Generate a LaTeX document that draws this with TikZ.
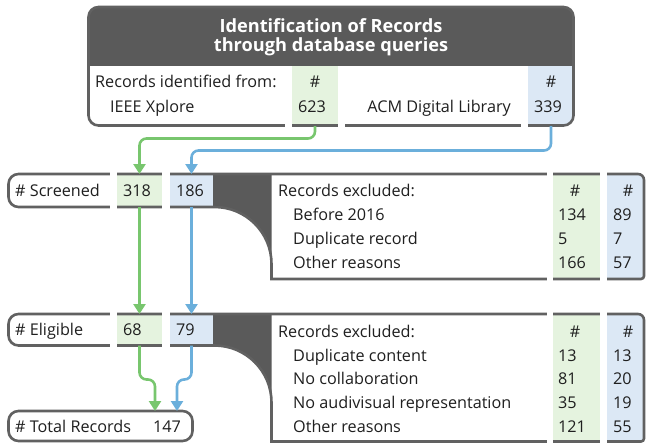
\documentclass[tikz,border=0pt]{standalone}
\usepackage{fontspec}
\setmainfont{Open Sans}
\usetikzlibrary{arrows.meta}
\definecolor{dk}{HTML}{5A5A5A}
\definecolor{bd}{HTML}{616161}
\definecolor{gl}{HTML}{78C66E}
\definecolor{gf}{HTML}{E5F3DF}
\definecolor{bl}{HTML}{6BAFDB}
\definecolor{bf}{HTML}{DCE8F5}
\definecolor{tx}{HTML}{1F1F1F}
\tikzset{
  txt/.style={inner sep=0pt, text height=11.5pt, text depth=0pt, font=\fontsize{16.2}{19}\selectfont, text=tx},
  lt/.style={txt, anchor=west},
  rt/.style={txt, anchor=east},
  ct/.style={txt, anchor=center},
  ttl/.style={inner sep=0pt, text height=13pt, text depth=0pt, anchor=center, text=white, font=\fontsize{18.2}{21}\selectfont\bfseries},
  gcell/.style={draw=none, fill=gf, inner sep=0pt, outer sep=0pt},
  bcell/.style={draw=none, fill=bf, inner sep=0pt, outer sep=0pt},
  border/.style={draw=bd, line width=2.6pt},
  gap/.style={fill=white, draw=none},
  garrow/.style={draw=gl, line width=2.6pt, rounded corners=7pt, -{Triangle[length=10pt,width=12pt]}},
  barrow/.style={draw=bl, line width=2.6pt, rounded corners=7pt, -{Triangle[length=10pt,width=12pt]}},
}
\begin{document}
\begin{tikzpicture}[x=1pt, y=-1pt]
\useasboundingbox (0,0) rectangle (647,444);

% ---------- top box ----------
\path[fill=white] [rounded corners=10pt] (88.5,7) rectangle (573.5,125.5);
\begin{scope}
  \clip [rounded corners=10pt] (88.5,7) rectangle (573.5,125.5);
  \fill[dk] (80,0) rectangle (580,66);
  \node[gcell, minimum width=46pt, minimum height=60pt] (cgA) at (315,96) {};
  \node[bcell, minimum width=46pt, minimum height=60pt] (cbA) at (551,96) {};
\end{scope}
\draw[border] [rounded corners=10pt] (88.5,7) rectangle (573.5,125.5);
\fill[gap] (285,66) rectangle (292,128);
\fill[gap] (338,66) rectangle (345,128);
\fill[gap] (521,66) rectangle (528,128);

\node[ttl] (title1) at (331,26.5) {Identification of Records};
\node[ttl] (title2) at (331,45.3) {through database queries};
\node[lt] (idfrom) at (95,82) {Records identified from:};
\node[lt] (ieee) at (110,107) {IEEE Xplore};
\node[ct] (hA1) at (315,82) {\#};
\node[lt] (v623) at (298,107) {623};
\node[rt] (acm) at (511,107) {ACM Digital Library};
\node[ct] (hA2) at (551,82) {\#};
\node[lt] (v339) at (534,107) {339};

% ---------- screened row ----------
\path[fill=white] (8.5,184) .. controls (8.5,178.48) and (12.98,174) .. (18.5,174) -- (638,174) .. controls (641.31,174) and (644,176.69) .. (644,180) -- (644,276) .. controls (644,277.66) and (642.66,279) .. (641,279) -- (271.5,279) -- (271.5,264) .. controls (271.5,232.52) and (245.98,207) .. (214.5,207) -- (18.5,207) .. controls (12.98,207) and (8.5,202.52) .. (8.5,197) -- cycle;
\begin{scope}
  \clip (8.5,184) .. controls (8.5,178.48) and (12.98,174) .. (18.5,174) -- (638,174) .. controls (641.31,174) and (644,176.69) .. (644,180) -- (644,276) .. controls (644,277.66) and (642.66,279) .. (641,279) -- (271.5,279) -- (271.5,264) .. controls (271.5,232.52) and (245.98,207) .. (214.5,207) -- (18.5,207) .. controls (12.98,207) and (8.5,202.52) .. (8.5,197) -- cycle;
  \fill[dk] (213,174) -- (271.5,174) -- (271.5,264) .. controls (271.5,232.52) and (245.98,207) .. (214.5,207) -- (213,207) -- cycle;
  \node[gcell, minimum width=45pt, minimum height=33pt] (cgS) at (139.5,190.5) {};
  \node[bcell, minimum width=43pt, minimum height=33pt] (cbS) at (191.5,190.5) {};
  \node[gcell, minimum width=47pt, minimum height=105pt] (cgX1) at (576.5,226.5) {};
  \node[bcell, minimum width=37pt, minimum height=105pt] (cbX1) at (625.5,226.5) {};
\end{scope}
\draw[border] (8.5,184) .. controls (8.5,178.48) and (12.98,174) .. (18.5,174) -- (638,174) .. controls (641.31,174) and (644,176.69) .. (644,180) -- (644,276) .. controls (644,277.66) and (642.66,279) .. (641,279) -- (271.5,279) -- (271.5,264) .. controls (271.5,232.52) and (245.98,207) .. (214.5,207) -- (18.5,207) .. controls (12.98,207) and (8.5,202.52) .. (8.5,197) -- cycle;
\fill[gap] (110,171) rectangle (117,210);
\fill[gap] (162,171) rectangle (170,210);
\fill[gap] (547,171) rectangle (553,282);
\fill[gap] (600,171) rectangle (607,282);

\node[lt] (scr) at (15,190.5) {\# Screened};
\node[lt] (v318) at (123,190.5) {318};
\node[lt] (v186) at (176,190.5) {186};
\node[lt] (ex1) at (278,191) {Records excluded:};
\node[lt] (ex1a) at (293,215) {Before 2016};
\node[lt] (ex1b) at (293,239) {Duplicate record};
\node[lt] (ex1c) at (293,263) {Other reasons};
\node[ct] (hX1g) at (575,191) {\#};
\node[lt] (v134) at (558,215) {134};
\node[lt] (v5) at (558,239) {5};
\node[lt] (v166) at (558,263) {166};
\node[ct] (hX1b) at (628,191) {\#};
\node[lt] (v89) at (613,215) {89};
\node[lt] (v7) at (613,239) {7};
\node[lt] (v57) at (613,263) {57};

% ---------- eligible row ----------
\path[fill=white] (8.5,324) .. controls (8.5,318.48) and (12.98,314) .. (18.5,314) -- (638,314) .. controls (641.31,314) and (644,316.69) .. (644,320) -- (644,438.5) .. controls (644,440.16) and (642.66,441.5) .. (641,441.5) -- (271.5,441.5) -- (271.5,402.5) .. controls (271.5,371.02) and (245.98,345.5) .. (214.5,345.5) -- (18.5,345.5) .. controls (12.98,345.5) and (8.5,341.02) .. (8.5,335.5) -- cycle;
\begin{scope}
  \clip (8.5,324) .. controls (8.5,318.48) and (12.98,314) .. (18.5,314) -- (638,314) .. controls (641.31,314) and (644,316.69) .. (644,320) -- (644,438.5) .. controls (644,440.16) and (642.66,441.5) .. (641,441.5) -- (271.5,441.5) -- (271.5,402.5) .. controls (271.5,371.02) and (245.98,345.5) .. (214.5,345.5) -- (18.5,345.5) .. controls (12.98,345.5) and (8.5,341.02) .. (8.5,335.5) -- cycle;
  \fill[dk] (213,314) -- (271.5,314) -- (271.5,402.5) .. controls (271.5,371.02) and (245.98,345.5) .. (214.5,345.5) -- (213,345.5) -- cycle;
  \node[gcell, minimum width=45pt, minimum height=31.5pt] (cgE) at (139.5,329.75) {};
  \node[bcell, minimum width=43pt, minimum height=31.5pt] (cbE) at (191.5,329.75) {};
  \node[gcell, minimum width=47pt, minimum height=127.5pt] (cgX2) at (576.5,377.75) {};
  \node[bcell, minimum width=37pt, minimum height=127.5pt] (cbX2) at (625.5,377.75) {};
\end{scope}
\draw[border] (8.5,324) .. controls (8.5,318.48) and (12.98,314) .. (18.5,314) -- (638,314) .. controls (641.31,314) and (644,316.69) .. (644,320) -- (644,438.5) .. controls (644,440.16) and (642.66,441.5) .. (641,441.5) -- (271.5,441.5) -- (271.5,402.5) .. controls (271.5,371.02) and (245.98,345.5) .. (214.5,345.5) -- (18.5,345.5) .. controls (12.98,345.5) and (8.5,341.02) .. (8.5,335.5) -- cycle;
\fill[gap] (110,311) rectangle (117,348.5);
\fill[gap] (162,311) rectangle (170,348.5);
\fill[gap] (547,311) rectangle (553,444);
\fill[gap] (600,311) rectangle (607,444);

\node[lt] (elig) at (15,329.5) {\# Eligible};
\node[lt] (v68) at (123,329.5) {68};
\node[lt] (v79) at (176,329.5) {79};
\node[lt] (ex2) at (278,332) {Records excluded:};
\node[lt] (ex2a) at (293,355.5) {Duplicate content};
\node[lt] (ex2b) at (293,379) {No collaboration};
\node[lt] (ex2c) at (293,403) {No audivisual representation};
\node[lt] (ex2d) at (293,427) {Other reasons};
\node[ct] (hX2g) at (575,332) {\#};
\node[lt] (v13a) at (558,355.5) {13};
\node[lt] (v81) at (558,379) {81};
\node[lt] (v35) at (558,403) {35};
\node[lt] (v121) at (558,427) {121};
\node[ct] (hX2b) at (628,332) {\#};
\node[lt] (v13b) at (613,355.5) {13};
\node[lt] (v20) at (613,379) {20};
\node[lt] (v19) at (613,403) {19};
\node[lt] (v55) at (613,427) {55};

% ---------- total ----------
\node[border, fill=white, rounded corners=10pt, inner sep=0pt, outer sep=0pt, minimum width=184pt, minimum height=30pt] (total) at (100.5,426) {};
\node[lt] (tot) at (15,427) {\# Total Records};
\node[lt] (v147) at (153,427) {147};
\coordinate (tg) at (155,411);
\coordinate (tb) at (177,411);

% ---------- connectors ----------
\draw[garrow] (cgA.south) -- ++(0,12.5) -| (cgS.north);
\draw[barrow] (cbA.south) -- ++(0,24.5) -| (cbS.north);
\draw[garrow] (cgS.south) -- (cgE.north);
\draw[barrow] (cbS.south) -- (cbE.north);
\draw[garrow] (cgE.south) -- ++(0,34) -| (tg);
\draw[barrow] (cbE.south) -- ++(0,34) -| (tb);
\end{tikzpicture}
\end{document}
